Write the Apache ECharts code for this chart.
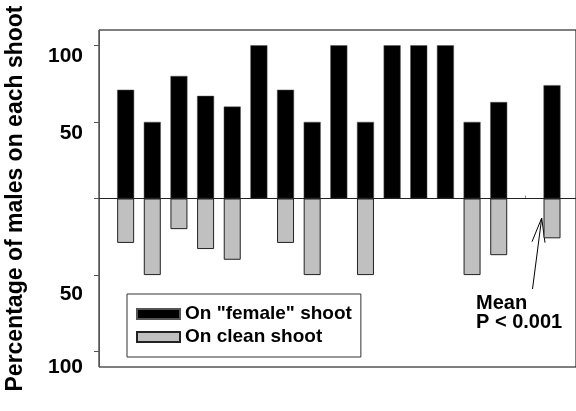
<!DOCTYPE html>
<html>
<head>
<meta charset="utf-8">
<script src="https://cdn.jsdelivr.net/npm/echarts@6/dist/echarts.min.js"></script>
<style>
  html, body { margin: 0; padding: 0; background: #fff; }
  #main { width: 576px; height: 411px; }
</style>
</head>
<body>
<div id="main"></div>
<script>
// shoot pairs, one empty slot, then the mean
const shoots = ['1', '2', '3', '4', '5', '6', '7', '8', '9', '10', '11', '12', '13', '14', '15', '', 'Mean']
// % of males on the "female" shoot (drawn upwards)
const femaleShoot = [71, 50, 80, 67, 60, 100, 71, 50, 100, 50, 100, 100, 100, 50, 63, null, 74]
// % of males on the clean shoot (drawn downwards)
const cleanShoot = [29, 50, 20, 33, 40, 0, 29, 50, 0, 50, 0, 0, 0, 50, 37, null, 26]
const yTicks = [-100, -50, 0, 50, 100]
const yLabels = [-100, -50, 50, 100]

const font = 'Liberation Sans, Arial, sans-serif'

// slot positions 1..17 on a plain value axis
const slots = shoots.map((s, i) => i + 1)
const upData = femaleShoot.map((v, i) => [slots[i], v])
const downData = cleanShoot.map((v, i) => [slots[i], v === null ? null : -v])

const chart = echarts.init(document.getElementById('main'))

const option = {
  animation: false,
  grid: {
    left: 99,
    right: 0,
    top: 30,
    bottom: 44,
    outerBoundsMode: 'none',
    show: true,
    borderColor: '#000',
    borderWidth: 1
  },
  legend: {
    left: 127,
    top: 294,
    orient: 'vertical',
    icon: 'rect',
    itemWidth: 43,
    itemHeight: 10,
    itemGap: 3,
    padding: [10, 9, 10, 9],
    borderColor: '#333',
    borderWidth: 1,
    textStyle: { fontFamily: font, fontSize: 19, fontWeight: 'bold', color: '#000', lineHeight: 20 },
    data: ['On "female" shoot', 'On clean shoot']
  },
  xAxis: {
    type: 'value',
    min: 0,
    max: 17.9,
    axisLine: { show: true, lineStyle: { color: '#444' } },
    axisTick: { show: true, inside: true, length: 3, customValues: slots, lineStyle: { color: '#888' } },
    axisLabel: { show: false },
    splitLine: { show: false }
  },
  yAxis: {
    type: 'value',
    min: -110,
    max: 110,
    name: 'Percentage of males on each shoot',
    nameLocation: 'middle',
    nameGap: 72,
    nameTextStyle: { fontFamily: font, fontSize: 23, fontWeight: 'bold', color: '#000' },
    axisLine: { show: true, lineStyle: { color: '#555' } },
    axisTick: { show: true, length: 5, customValues: yTicks, lineStyle: { color: '#555' } },
    axisLabel: {
      customValues: yLabels,
      margin: 16,
      verticalAlign: 'top',
      formatter: function (v) {
        if (v > 0) return '{t|' + v + '}'
        if (v === -50) return '{m|' + Math.abs(v) + '}'
        return '{b|' + Math.abs(v) + '}'
      },
      rich: {
        t: { fontFamily: font, fontSize: 21, fontWeight: 'bold', color: '#000', lineHeight: 22 },
        m: { fontFamily: font, fontSize: 21, fontWeight: 'bold', color: '#000', lineHeight: 38 },
        b: { fontFamily: font, fontSize: 21, fontWeight: 'bold', color: '#000', lineHeight: 32 }
      }
    },
    splitLine: { show: false }
  },
  series: [
    {
      name: 'On "female" shoot',
      type: 'bar',
      data: upData,
      barWidth: 17,
      barGap: '-100%',
      itemStyle: { color: '#000', borderColor: '#555', borderWidth: 0.5 }
    },
    {
      name: 'On clean shoot',
      type: 'bar',
      data: downData,
      barWidth: 17,
      itemStyle: { color: '#c0c0c0', borderColor: '#222', borderWidth: 1 },
      markLine: {
        silent: true,
        symbol: 'none',
        label: { show: false },
        lineStyle: { color: '#222', width: 1, type: 'solid' },
        data: [{ yAxis: 0 }]
      }
    }
  ],
  graphic: [
    {
      type: 'text',
      left: 476,
      top: 293,
      style: {
        text: 'Mean\nP < 0.001',
        font: 'bold 20px ' + font,
        lineHeight: 19,
        fill: '#000'
      }
    },
    {
      type: 'line',
      shape: { x1: 532.5, y1: 289, x2: 541.7, y2: 218 },
      style: { stroke: '#000', lineWidth: 1 }
    },
    {
      type: 'polyline',
      shape: { points: [[532, 241.7], [541.7, 218], [545, 242.7]] },
      style: { stroke: '#000', lineWidth: 1, fill: null }
    }
  ]
}

chart.setOption(option)
</script>
</body>
</html>
